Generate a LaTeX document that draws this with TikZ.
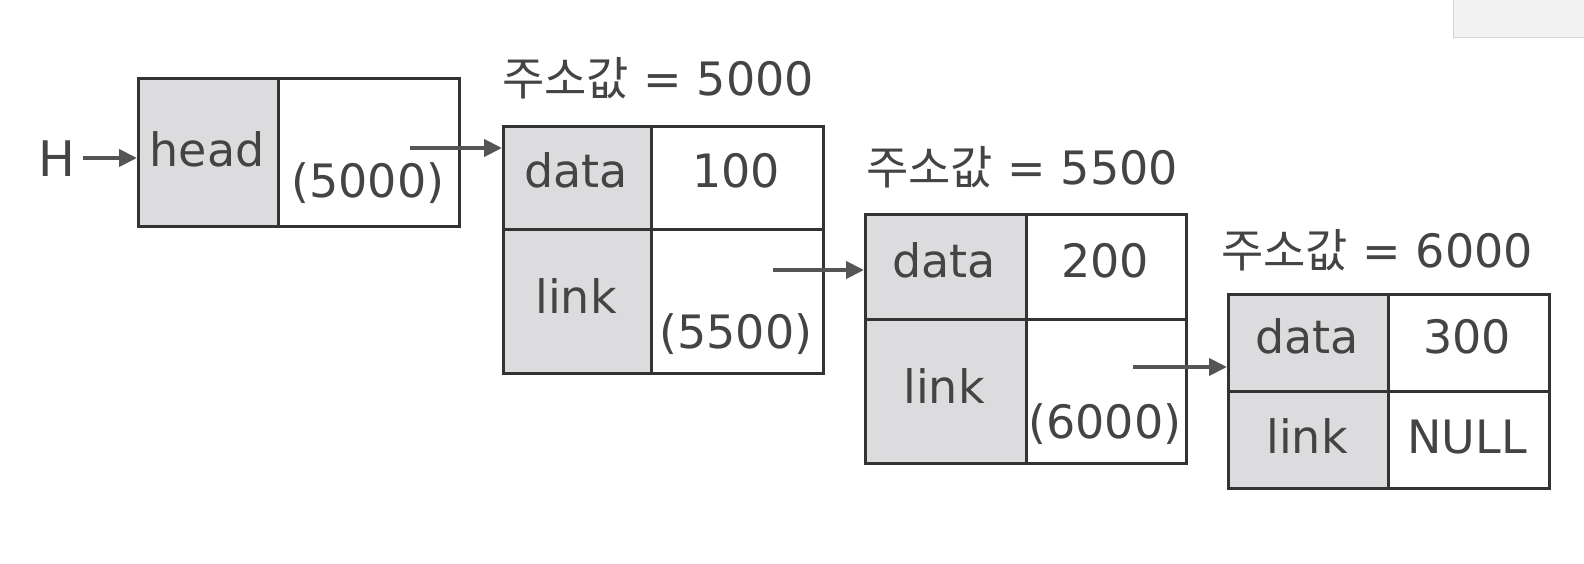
\documentclass[tikz,border=0pt]{standalone}
\usepackage{fontspec}
\setmainfont{DejaVu Sans}
\newfontfamily\kr{Noto Sans CJK KR}
\usetikzlibrary{arrows.meta}
\definecolor{bord}{HTML}{333333}
\definecolor{cellgray}{HTML}{DCDCDE}
\definecolor{txtc}{HTML}{444444}
\definecolor{arrc}{HTML}{555555}
\definecolor{uigray}{HTML}{F2F2F2}
\definecolor{uibord}{HTML}{D4D4D4}
\tikzset{
  graycell/.style={draw=bord, fill=cellgray, line width=2.6bp, inner sep=0pt, anchor=north west},
  whitecell/.style={draw=bord, fill=white, line width=2.6bp, inner sep=0pt, anchor=north west},
  celltext/.style={text=txtc, font=\fontsize{46bp}{50bp}\selectfont, inner sep=0pt, anchor=base},
  addrlabel/.style={text=txtc, font=\fontsize{46bp}{50bp}\selectfont, inner sep=0pt, anchor=base west},
  ptr/.style={draw=arrc, line width=4bp, -{Triangle[length=18bp,width=17bp]}}
}
\begin{document}
\begin{tikzpicture}[x=1bp,y=-1bp]
\useasboundingbox[fill=white] (0,0) rectangle (1584,564);
% UI artifact top right
\node[draw=uibord, fill=uigray, line width=1bp, inner sep=0pt, anchor=north west, minimum width=140bp, minimum height=39bp] (ui) at (1453,-2) {};

% head box
\node[graycell, minimum width=140bp, minimum height=148bp] (hl) at (137,77) {};
\node[whitecell, minimum width=181bp, minimum height=148bp] (hr) at (277,77) {};
\node[celltext] (thead) at (207,167) {head};
\node[celltext] (t5000) at (368,198) {(5000)};
\node[celltext, font=\fontsize{49bp}{50bp}\selectfont] (H) at (57,177) {H};

% node 1
\node[addrlabel] (lab1) at (502,96) {{\kr 주소값} = 5000};
\node[graycell, minimum width=148bp, minimum height=103bp] (d1l) at (502,125) {};
\node[whitecell, minimum width=172bp, minimum height=103bp] (d1r) at (650,125) {};
\node[graycell, minimum width=148bp, minimum height=144bp] (l1l) at (502,228) {};
\node[whitecell, minimum width=172bp, minimum height=144bp] (l1r) at (650,228) {};
\node[celltext] (td1) at (576,188) {data};
\node[celltext] (tv1) at (736,188) {100};
\node[celltext] (tl1) at (576,313) {link};
\node[celltext] (tp1) at (736,348) {(5500)};

% node 2
\node[addrlabel] (lab2) at (866,185) {{\kr 주소값} = 5500};
\node[graycell, minimum width=161bp, minimum height=105bp] (d2l) at (864,213) {};
\node[whitecell, minimum width=160bp, minimum height=105bp] (d2r) at (1025,213) {};
\node[graycell, minimum width=161bp, minimum height=144bp] (l2l) at (864,318) {};
\node[whitecell, minimum width=160bp, minimum height=144bp] (l2r) at (1025,318) {};
\node[celltext] (td2) at (944,277) {data};
\node[celltext] (tv2) at (1105,277) {200};
\node[celltext] (tl2) at (944,403) {link};
\node[celltext] (tp2) at (1105,438) {(6000)};

% node 3
\node[addrlabel] (lab3) at (1221,267) {{\kr 주소값} = 6000};
\node[graycell, minimum width=160bp, minimum height=97bp] (d3l) at (1227,293) {};
\node[whitecell, minimum width=161bp, minimum height=97bp] (d3r) at (1387,293) {};
\node[graycell, minimum width=160bp, minimum height=97bp] (l3l) at (1227,390) {};
\node[whitecell, minimum width=161bp, minimum height=97bp] (l3r) at (1387,390) {};
\node[celltext] (td3) at (1307,353) {data};
\node[celltext] (tv3) at (1467,353) {300};
\node[celltext] (tl3) at (1307,453) {link};
\node[celltext] (tn3) at (1467,453) {NULL};

% pointers
\coordinate (p0) at (83,158);
\coordinate (p1) at (410,148);
\coordinate (p2) at (773,270);
\coordinate (p3) at (1133,367);
\draw[ptr] (p0) -- (p0 -| hl.west);
\draw[ptr] (p1) -- (p1 -| d1l.west);
\draw[ptr] (p2) -- (p2 -| d2l.west);
\draw[ptr] (p3) -- (p3 -| d3l.west);
\end{tikzpicture}
\end{document}
